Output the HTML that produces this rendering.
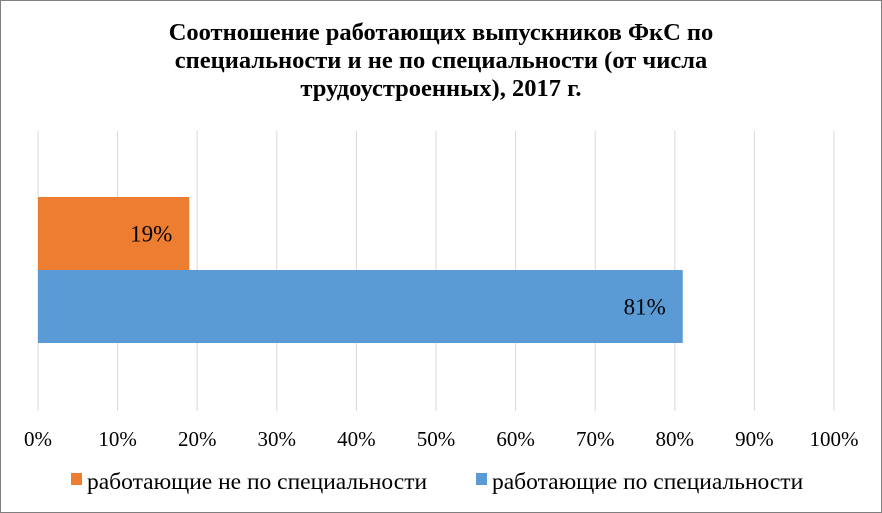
<!DOCTYPE html>
<html><head><meta charset="utf-8"><style>
body{margin:0;background:#fff;}
#wrap{position:relative;width:880px;height:511px;border:1px solid #7f7f7f;background:#fff;font-family:"Liberation Serif",serif;}
.title{position:absolute;left:0;top:18px;width:880px;text-align:center;font-weight:bold;font-size:24.5px;line-height:28px;color:#000;}
</style></head><body>
<div id="wrap">
<div class="title">Соотношение работающих выпускников ФкС по<br>специальности и не по специальности (от числа<br>трудоустроенных), 2017 г.</div>
<svg id="chart" width="880" height="511" style="position:absolute;left:0;top:0"></svg>
</div>
<script>
const ticks=[0,10,20,30,40,50,60,70,80,90,100];
const seriesNames=["работающие не по специальности","работающие по специальности"];
const seriesValues=[19,81];
const colors=["#ed7d31","#5b9bd5"];
const svg=document.getElementById('chart');
const NS="http://www.w3.org/2000/svg";
const x0=37,x1=833,yTop=130,yBot=410;
const xs=v=>x0+(x1-x0)*v/100;
function mk(t,a){const e=document.createElementNS(NS,t);for(const k in a)e.setAttribute(k,a[k]);svg.appendChild(e);return e;}
ticks.forEach(t=>{
  const l=mk('line',{x1:xs(t),x2:xs(t),y1:yTop,y2:yBot,stroke:'#d9d9d9','stroke-width':1});
  
  
  const tx=mk('text',{x:xs(t),y:445,'text-anchor':'middle','font-size':21,'font-family':'Liberation Serif, serif',fill:'#000'});
  tx.textContent=t+'%';
  
  
});
const barTops=[196,269],barH=73;
seriesValues.forEach((v,i)=>{
  const r=mk('rect',{x:x0,y:barTops[i],width:xs(v)-x0,height:barH,fill:colors[i]});
  
  
  const t=mk('text',{x:xs(v)-17,y:barTops[i]+barH/2+8,'text-anchor':'end','font-size':23,'font-family':'Liberation Serif, serif',fill:'#000'});
  t.textContent=v+'%';
  
  
});
const legX=[70,475];
seriesNames.forEach((n,i)=>{
  const r=mk('rect',{x:legX[i],y:472,width:11,height:12,fill:colors[i]});
  
  
  const t=mk('text',{x:legX[i]+16,y:488,'font-size':23.5,'font-family':'Liberation Serif, serif',fill:'#000'});
  t.textContent=n;
  
  
});
</script>
</body></html>
